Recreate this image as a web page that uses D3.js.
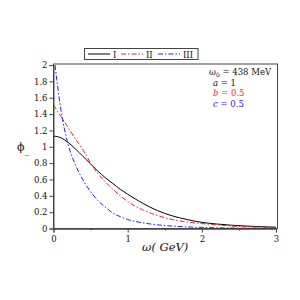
<!DOCTYPE html>
<html>
<head>
<meta charset="utf-8">
<script src="https://cdn.jsdelivr.net/npm/d3@7/dist/d3.min.js"></script>
<style>
  body { margin: 0; background: #fff; }
  svg { display: block; }
  text { font-family: "DejaVu Serif", serif; }
</style>
</head>
<body>
<script>
// values
var omega = [0, 0.1, 0.2, 0.3, 0.4, 0.5, 0.6, 0.7, 0.8, 0.9, 1.0, 1.2, 1.4, 1.6, 1.8, 2.0, 2.2, 2.4, 2.6, 2.8, 3.0];
var phiI   = [1.13, 1.11, 1.05, 0.97, 0.88, 0.79, 0.70, 0.62, 0.55, 0.48, 0.42, 0.31, 0.22, 0.155, 0.11, 0.075, 0.055, 0.04, 0.03, 0.022, 0.016];
var phiII  = [1.51, 1.37, 1.23, 1.09, 0.96, 0.80, 0.67, 0.57, 0.48, 0.40, 0.33, 0.23, 0.16, 0.11, 0.08, 0.06, 0.045, 0.03, 0.022, 0.016, 0.012];
var omegaIII = [0.02, 0.1, 0.2, 0.3, 0.4, 0.5, 0.6, 0.7, 0.8, 0.9, 1.0, 1.2, 1.4, 1.6, 1.8, 2.0, 2.2, 2.4, 2.6, 2.8, 3.0];
var phiIII = [2.0, 1.45, 1.02, 0.77, 0.59, 0.45, 0.34, 0.26, 0.19, 0.145, 0.11, 0.07, 0.045, 0.03, 0.02, 0.013, 0.009, 0.006, 0.004, 0.003, 0.002];
var legendLabels = ["I", "II", "III"];
var xTicks = [0, 1, 2, 3];
var xMinor = [0.5, 1.5, 2.5];
var yTicks = [0, 0.2, 0.4, 0.6, 0.8, 1, 1.2, 1.4, 1.6, 1.8, 2];

var series = [
  {name: legendLabels[0], xs: omega, ys: phiI, color: "#000000", dash: null},
  {name: legendLabels[1], xs: omega, ys: phiII, color: "#ff2020", dash: "5,2,1.5,2"},
  {name: legendLabels[2], xs: omegaIII, ys: phiIII, color: "#2020ff", dash: "5,2,1.5,2"}
];

var svg = d3.select("body").append("svg").attr("width", 300).attr("height", 300);

var pLeft = 53.5, pRight = 277.5, pTop = 64, pBottom = 228.5;
var x = d3.scaleLinear().domain([0, 3]).range([pLeft, 276]);
var y = d3.scaleLinear().domain([0, 2]).range([pBottom, 65]);

// frame
svg.append("rect")
  .attr("x", pLeft).attr("y", pTop)
  .attr("width", pRight - pLeft).attr("height", pBottom - pTop)
  .attr("fill", "none").attr("stroke", "#444").attr("stroke-width", 1);

// clip
svg.append("clipPath").attr("id", "clip")
  .append("rect").attr("x", pLeft).attr("y", pTop).attr("width", pRight - pLeft).attr("height", pBottom - pTop);

var line = d3.line()
  .x(function (d) { return x(d[0]); })
  .y(function (d) { return y(d[1]); })
  .curve(d3.curveMonotoneX);

var g = svg.append("g").attr("clip-path", "url(#clip)");
series.forEach(function (s) {
  g.append("path")
    .datum(d3.zip(s.xs, s.ys))
    .attr("d", line)
    .attr("fill", "none")
    .attr("stroke", s.color)
    .attr("stroke-width", 1)
    .attr("stroke-dasharray", s.dash);
});

// axes
var yAxis = d3.axisLeft(y).tickValues(yTicks).tickSize(4).tickPadding(2)
  .tickFormat(function (d) { return d3.format("")(d); });
svg.append("g").attr("transform", "translate(" + pLeft + ",0)").call(yAxis);

var xAxis = d3.axisBottom(x).tickValues(xTicks).tickSize(4).tickPadding(3)
  .tickFormat(d3.format("d"));
svg.append("g").attr("transform", "translate(0," + pBottom + ")").call(xAxis);

svg.append("g").attr("transform", "translate(0," + pBottom + ")")
  .call(d3.axisBottom(x).tickValues(xMinor).tickSize(2).tickFormat(""));

svg.selectAll(".domain").attr("stroke", "#444");
svg.selectAll(".tick line").attr("stroke", "#444");
svg.selectAll(".tick text").attr("font-family", "DejaVu Serif").attr("font-size", 8.5)
  .attr("fill", "#111");

// axis labels
var yl = svg.append("text").attr("x", 17).attr("y", 151).attr("font-size", 11).attr("fill", "#111");
yl.append("tspan").text("ϕ");
yl.append("tspan").attr("dy", 2).attr("font-size", 9).text("_");

svg.append("text").attr("x", 142).attr("y", 251)
  .attr("font-size", 11.5).attr("font-style", "italic").attr("fill", "#111")
  .text("ω( GeV)");

// legend
var lg = svg.append("g");
lg.append("rect").attr("x", 84.5).attr("y", 48.5).attr("width", 113.5).attr("height", 11)
  .attr("fill", "#fff").attr("stroke", "#444");
var lx = [88, 121, 158];
series.forEach(function (s, i) {
  lg.append("line").attr("x1", lx[i]).attr("x2", lx[i] + 22).attr("y1", 54).attr("y2", 54)
    .attr("stroke", s.color).attr("stroke-width", 1).attr("stroke-dasharray", s.dash);
  lg.append("text").attr("x", lx[i] + 25).attr("y", 57.5).attr("font-size", 8.5)
    .attr("fill", "#111").text(s.name);
});

// parameter annotations
var t0 = svg.append("text").attr("x", 209).attr("y", 75).attr("font-size", 8.5).attr("fill", "#111");
t0.append("tspan").text("ω");
t0.append("tspan").attr("dy", 2).attr("font-size", 6).text("0");
t0.append("tspan").attr("dy", -2).text(" = 438 MeV");

var params = [["a", " = 1", "#111"], ["b", " = 0.5", "#ff2020"], ["c", " = 0.5", "#2020ff"]];
params.forEach(function (p, i) {
  var t = svg.append("text").attr("x", 213).attr("y", 85.5 + i * 10.5).attr("font-size", 8.5).attr("fill", p[2]);
  t.append("tspan").attr("font-style", "italic").text(p[0]);
  t.append("tspan").text(p[1]);
});
</script>
</body>
</html>
